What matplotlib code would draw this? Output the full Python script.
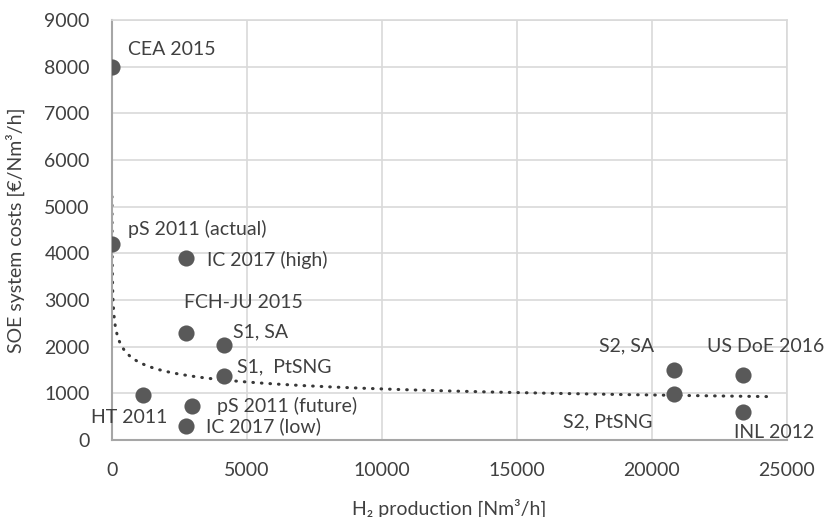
import matplotlib
matplotlib.use('Agg')
import matplotlib.pyplot as plt
import numpy as np

plt.rcParams['font.family'] = ['Lato', 'DejaVu Sans']

TXT = '#404040'
DOT = '#595959'
GRID = '#D9D9D9'

# ── Data ─────────────────────────────────────────────────────────────────────
labels = ['CEA 2015', 'pS 2011 (actual)', 'IC 2017 (high)', 'FCH-JU 2015',
          'S1, SA', 'S1,  PtSNG', 'HT 2011', 'pS 2011 (future)',
          'IC 2017 (low)', 'S2, SA', 'US DoE 2016', 'S2, PtSNG', 'INL 2012']
h2_prod = [2, 2, 2740, 2740, 4150, 4150, 1150, 2970, 2740,
           20830, 23380, 20830, 23380]
costs = [8000, 4200, 3900, 2300, 2030, 1380, 960, 730, 290,
         1490, 1390, 990, 610]

# label offsets in pixels (dx, dy) from each point
offsets = [(16, 17), (16, 15), (21, -2), (-2, 30), (9, 13), (13, 9),
           (-52, -22), (25, 0), (20, 0), (-75, 25), (-36, 29),
           (-111, -28), (-9, -21)]

# ── Figure ───────────────────────────────────────────────────────────────────
fig = plt.figure(figsize=(8.29, 5.17), dpi=100)
ax = fig.add_axes([0.135, 0.149, 0.814, 0.812])

# power trendline fitted on the data (like Excel's)
x = np.array(h2_prod, dtype=float)
y = np.array(costs, dtype=float)
b, ln_a = np.polyfit(np.log(x), np.log(y), 1)
xt = np.linspace(x.min(), x.max() + 1000, 3000)
ax.plot(xt, np.exp(ln_a) * xt ** b, ls=(0, (0.2, 2.6)), lw=2.2,
        color='#383838', dash_capstyle='round', zorder=2)

ax.scatter(x, y, s=135, color=DOT, zorder=3, linewidths=0)

for lab, xi, yi, (dx, dy) in zip(labels, h2_prod, costs, offsets):
    ax.annotate(lab, xy=(xi, yi), xytext=(dx, dy), textcoords='offset pixels',
                ha='left', va='center', fontsize=14, color=TXT, zorder=4)

ax.set_xlim(0, 25000)
ax.set_ylim(0, 9000)
ax.set_xticks(np.arange(0, 25001, 5000))
ax.set_yticks(np.arange(0, 9001, 1000))
ax.grid(True, color=GRID, lw=1.2)
ax.set_axisbelow(True)
for s in ['top', 'right']:
    ax.spines[s].set_color(GRID)
    ax.spines[s].set_linewidth(1.2)
for s in ['left', 'bottom']:
    ax.spines[s].set_color('#A6A6A6')
    ax.spines[s].set_linewidth(1.5)
ax.tick_params(length=0, pad=16, labelsize=14, labelcolor=TXT)

ax.set_xlabel('H\u2082 production [Nm\u00b3/h]', fontsize=14, color=TXT, labelpad=14)
ax.set_ylabel('SOE system costs [\u20ac/Nm\u00b3/h]', fontsize=14, color=TXT, labelpad=14)

fig.savefig('out.png', dpi=100)
